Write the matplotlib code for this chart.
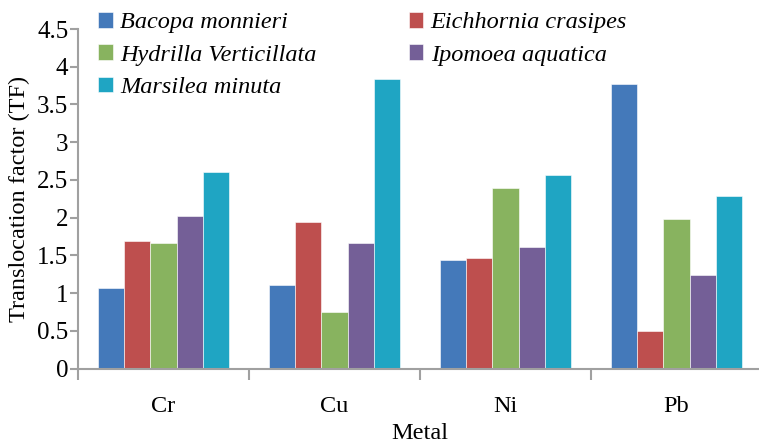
import matplotlib.pyplot as plt
import numpy as np
from matplotlib.ticker import FixedLocator, FuncFormatter

plt.rcParams['font.family'] = ['Liberation Serif', 'DejaVu Serif']

metals = ["Cr", "Cu", "Ni", "Pb"]
species = ["Bacopa monnieri", "Eichhornia crasipes", "Hydrilla Verticillata",
           "Ipomoea aquatica", "Marsilea minuta"]
bacopa = [1.07, 1.11, 1.44, 3.77]
eichhornia = [1.69, 1.94, 1.46, 0.50]
hydrilla = [1.66, 0.75, 2.39, 1.98]
ipomoea = [2.02, 1.67, 1.61, 1.24]
marsilea = [2.60, 3.84, 2.57, 2.29]
values = [bacopa, eichhornia, hydrilla, ipomoea, marsilea]
colors = ["#4479BA", "#BE4F4E", "#88B35F", "#745F97", "#1FA5C3"]

fig = plt.figure(figsize=(7.59, 4.44), dpi=100)
ax = fig.add_axes([78 / 759, 1 - 368.5 / 444, 684 / 759, (368.5 - 29) / 444])

x = np.arange(len(metals))
w = 0.154
handles = []
for i, (name, vals, c) in enumerate(zip(species, values, colors)):
    b = ax.bar(x + (i - 2) * w, vals, w, color=c, edgecolor="white",
               linewidth=0.4, label=name)
    handles.append(b)

ax.set_xlim(-0.5, 3.5)
ax.set_ylim(0, 4.5)
ax.set_yticks(np.arange(0, 4.51, 0.5))
ax.yaxis.set_major_formatter(FuncFormatter(lambda v, p: f"{v:g}"))
ax.set_xticks(x)
ax.set_xticklabels(metals)
ax.xaxis.set_minor_locator(FixedLocator([-0.5, 0.5, 1.5, 2.5, 3.5]))
ax.tick_params(axis="x", which="major", length=0, pad=20, labelsize=17.5)
ax.tick_params(axis="x", which="minor", length=8, width=1.5, color="#A0A0A0")
ax.tick_params(axis="y", length=6, width=1.5, color="#A0A0A0", labelsize=18, pad=1)

for s in ["top", "right"]:
    ax.spines[s].set_visible(False)
for s in ["left", "bottom"]:
    ax.spines[s].set_color("#A0A0A0")
    ax.spines[s].set_linewidth(1.5)

ax.set_ylabel("Translocation factor (TF)", fontsize=17.5, labelpad=5)
ax.set_xlabel("Metal", fontsize=17.5, labelpad=4)

order = [0, 2, 4, 1, 3]
leg = fig.legend([handles[i] for i in order], [species[i] for i in order],
                 ncol=2, frameon=False, loc="upper left",
                 bbox_to_anchor=(86 / 759, 1.0),
                 bbox_transform=fig.transFigure,
                 prop={"style": "italic", "size": 17.5},
                 handlelength=0.6, handleheight=0.6, handletextpad=0.3,
                 columnspacing=3.8, labelspacing=0.45, borderpad=0)

fig.savefig("out.png", dpi=100)
